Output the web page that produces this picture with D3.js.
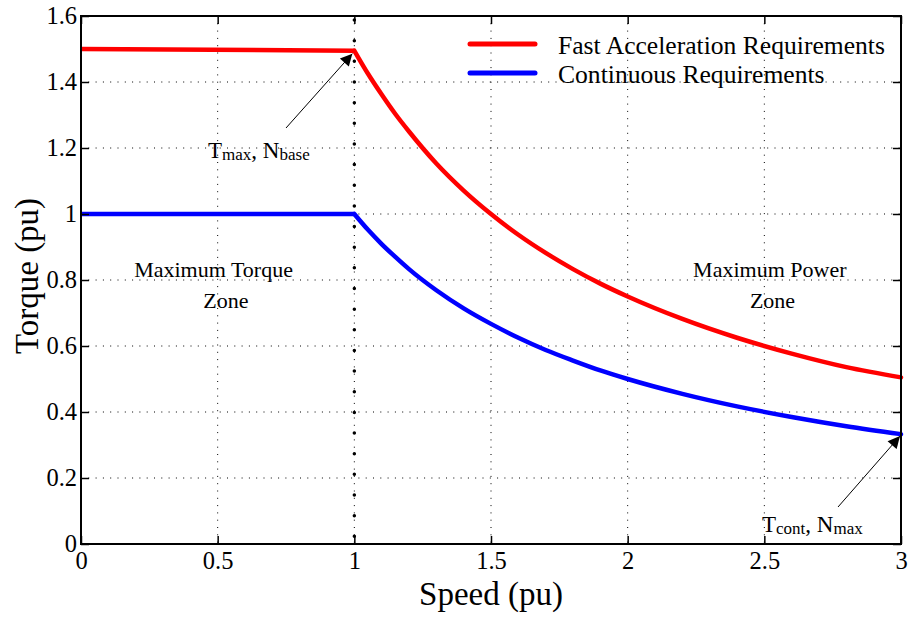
<!DOCTYPE html>
<html>
<head>
<meta charset="utf-8">
<script src="https://cdn.jsdelivr.net/npm/d3@7"></script>
<style>
  body { margin: 0; background: #fff; }
  text { font-family: "Liberation Serif", "Times New Roman", serif; fill: #000; }
</style>
</head>
<body>
<div id="chart"></div>
<script>
"use strict"

// speed (pu) and torque (pu)
var speed = [0, 1, 1.05, 1.1, 1.15, 1.2, 1.3, 1.4, 1.5, 1.6, 1.7, 1.8, 1.9, 2.0, 2.2, 2.4, 2.6, 2.8, 3.0];
var fastTorque = [1.5, 1.495, 1.425, 1.362, 1.303, 1.25, 1.153, 1.071, 1.0, 0.937, 0.882, 0.833, 0.789, 0.75, 0.682, 0.625, 0.577, 0.536, 0.505];
var contTorque = [1.0, 1.0, 0.952, 0.909, 0.87, 0.833, 0.769, 0.714, 0.667, 0.625, 0.588, 0.556, 0.526, 0.5, 0.455, 0.417, 0.385, 0.357, 0.333];

var xTicks = [0, 0.5, 1, 1.5, 2, 2.5, 3];
var xTickLabels = ["0", "0.5", "1", "1.5", "2", "2.5", "3"];
var yTicks = [0, 0.2, 0.4, 0.6, 0.8, 1, 1.2, 1.4, 1.6];
var yTickLabels = ["0", "0.2", "0.4", "0.6", "0.8", "1", "1.2", "1.4", "1.6"];

var seriesNames = ["Fast Acceleration Requirements", "Continuous Requirements"];
var seriesColors = ["#ff0000", "#0000ff"];

var margin = {top: 16, right: 9, bottom: 75, left: 81},
  width = 910 - margin.left - margin.right,
  height = 619 - margin.top - margin.bottom;

let svg = d3.select("#chart")
            .append("svg")
                .attr("width", 910)
                .attr("height", 619)
            .append("g")
                .attr("transform", "translate(" + margin.left + "," + margin.top + ")");

const x = d3.scaleLinear().domain([0, 3]).range([0, width]);
const y = d3.scaleLinear().domain([0, 1.6]).range([height, 0]);

// grid
svg.append("g")
  .selectAll("line")
  .data(xTicks.slice(1, -1))
  .join("line")
    .attr("x1", d => x(d)).attr("x2", d => x(d))
    .attr("y1", 0).attr("y2", height)
    .attr("stroke", "#000")
    .attr("stroke-width", 1)
    .attr("stroke-dasharray", "1,6.3");

svg.append("g")
  .selectAll("line")
  .data(yTicks.slice(1, -1))
  .join("line")
    .attr("x1", 0).attr("x2", width)
    .attr("y1", d => y(d)).attr("y2", d => y(d))
    .attr("stroke", "#000")
    .attr("stroke-width", 1)
    .attr("stroke-dasharray", "1,6.3");

// base speed marker (big dots at speed = 1)
svg.append("line")
  .attr("x1", x(1)).attr("x2", x(1))
  .attr("y1", 0).attr("y2", height)
  .attr("stroke", "#000")
  .attr("stroke-width", 3.5)
  .attr("stroke-linecap", "round")
  .attr("stroke-dasharray", "0,20.65")
  .attr("stroke-dashoffset", 16.6);

// curves: flat part then the constant power part
const line = d3.line()
  .x(d => x(d[0]))
  .y(d => y(d[1]))
  .curve(d3.curveMonotoneX);

[fastTorque, contTorque].forEach((vals, i) => {
  const pts = speed.map((s, j) => [s, vals[j]]);
  svg.append("path")
    .datum(pts.slice(0, 2))
    .attr("fill", "none")
    .attr("stroke", seriesColors[i])
    .attr("stroke-width", 4.5)
    .attr("d", d3.line().x(d => x(d[0])).y(d => y(d[1])));
  svg.append("path")
    .datum(pts.slice(1))
    .attr("fill", "none")
    .attr("stroke", seriesColors[i])
    .attr("stroke-width", 4.5)
    .attr("stroke-linecap", "round")
    .attr("d", line);
});

// axes with inward ticks, mirrored on top / right
const xAxis = d3.axisBottom(x).tickValues(xTicks).tickSize(-8).tickPadding(8)
  .tickFormat((d, i) => xTickLabels[i]);
const yAxis = d3.axisLeft(y).tickValues(yTicks).tickSize(-8).tickPadding(4)
  .tickFormat((d, i) => yTickLabels[i]);

function styleAxis(g) {
  g.attr("font-family", null);
  g.select(".domain").remove();
  g.selectAll(".tick line").attr("stroke", "#000").attr("stroke-width", 1.5);
  g.selectAll(".tick text").style("font-size", "24.5px").attr("fill", "#000");
}

svg.append("g").attr("transform", "translate(0," + height + ")").call(xAxis).call(styleAxis);
svg.append("g").call(yAxis).call(styleAxis);
svg.append("g").call(d3.axisTop(x).tickValues(xTicks).tickSize(-8).tickFormat(""))
  .call(styleAxis);
svg.append("g").attr("transform", "translate(" + width + ",0)")
  .call(d3.axisRight(y).tickValues(yTicks).tickSize(-8).tickFormat(""))
  .call(styleAxis);

svg.append("rect")
  .attr("width", width).attr("height", height)
  .attr("fill", "none")
  .attr("stroke", "#000")
  .attr("stroke-width", 2);

// axis titles
svg.append("text")
  .attr("x", width / 2).attr("y", height + 61)
  .attr("text-anchor", "middle")
  .style("font-size", "33px")
  .text("Speed (pu)");

svg.append("text")
  .attr("transform", "translate(" + (-43) + "," + (height / 2 - 4) + ") rotate(-90)")
  .attr("text-anchor", "middle")
  .style("font-size", "33px")
  .text("Torque (pu)");

// legend
const legend = svg.append("g").attr("transform", "translate(389,28)");
seriesNames.forEach((name, i) => {
  legend.append("line")
    .attr("x1", 0).attr("x2", 65)
    .attr("y1", i * 29).attr("y2", i * 29)
    .attr("stroke", seriesColors[i])
    .attr("stroke-width", 5)
    .attr("stroke-linecap", "round");
  legend.append("text")
    .attr("x", 88).attr("y", i * 29 + 10)
    .style("font-size", "25.6px")
    .text(name);
});

// zone labels
function zoneLabel(cx, lines) {
  lines.forEach((t, i) => {
    svg.append("text")
      .attr("x", cx[i]).attr("y", 261 + i * 31)
      .attr("text-anchor", "middle")
      .style("font-size", "22px")
      .text(t);
  });
}
zoneLabel([x(0.485), x(0.53)], ["Maximum Torque", "Zone"]);
zoneLabel([x(2.52), x(2.53)], ["Maximum Power", "Zone"]);

// annotations with arrows
svg.append("defs").append("marker")
  .attr("id", "arrow")
  .attr("viewBox", "0 0 10 10")
  .attr("refX", 10).attr("refY", 5)
  .attr("markerWidth", 14).attr("markerHeight", 12)
  .attr("markerUnits", "userSpaceOnUse")
  .attr("orient", "auto")
  .append("path")
    .attr("d", "M0,0 L10,5 L0,10 Z")
    .attr("fill", "#000");

function annotate(tx, ty, parts, ax, ay) {
  const t = svg.append("text").attr("x", tx).attr("y", ty).style("font-size", "23px");
  parts.forEach(p => {
    const s = t.append("tspan").text(p[0]);
    if (p[1]) s.style("font-size", "17px").attr("dy", 2);
    else s.attr("dy", -2);
  });
  svg.append("line")
    .attr("x1", ax[0]).attr("y1", ay[0])
    .attr("x2", ax[1]).attr("y2", ay[1])
    .attr("stroke", "#000")
    .attr("stroke-width", 1)
    .attr("marker-end", "url(#arrow)");
}

annotate(127, 144, [["T"], ["max", 1], [", N"], ["base", 1]],
  [205, x(1) - 2], [112, y(1.495) + 3]);
annotate(681, 518, [["T"], ["cont", 1], [", N"], ["max", 1]],
  [757, x(3) - 1], [491, y(0.333) + 2]);
</script>
</body>
</html>
